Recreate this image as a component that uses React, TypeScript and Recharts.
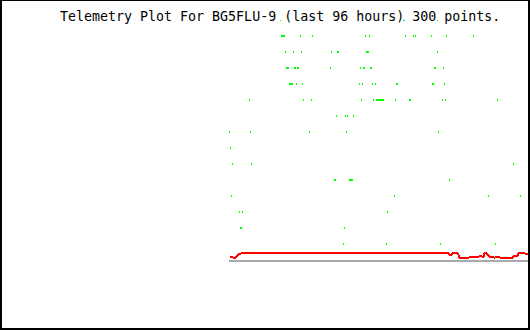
import { ComposedChart, Line, Scatter, XAxis, YAxis, ReferenceLine } from 'recharts'

const title = 'Telemetry Plot For BG5FLU-9 (last 96 hours) 300 points.'

// analog channel, one value per point (0..299)
const analog = [
  3, 3, 3, 3, 2, 2, 2, 4, 4, 6, 6, 6, 7, 7, 7, 7, 7, 7, 7, 7, 7, 7, 7, 7, 7, 7, 7, 7, 7, 7,
  7, 7, 7, 7, 7, 7, 7, 7, 7, 7, 7, 7, 7, 7, 7, 7, 7, 7, 7, 7, 7, 7, 7, 7, 7, 7, 7, 7, 7, 7,
  7, 7, 7, 7, 7, 7, 7, 7, 7, 7, 7, 7, 7, 7, 7, 7, 7, 7, 7, 7, 7, 7, 7, 7, 7, 7, 7, 7, 7, 7,
  7, 7, 7, 7, 7, 7, 7, 7, 7, 7, 7, 7, 7, 7, 7, 7, 7, 7, 7, 7, 7, 7, 7, 7, 7, 7, 7, 7, 7, 7,
  7, 7, 7, 7, 7, 7, 7, 7, 7, 7, 7, 7, 7, 7, 7, 7, 7, 7, 7, 7, 7, 7, 7, 7, 7, 7, 7, 7, 7, 7,
  7, 7, 7, 7, 7, 7, 7, 7, 7, 7, 7, 7, 7, 7, 7, 7, 7, 7, 7, 7, 7, 7, 7, 7, 7, 7, 7, 7, 7, 7,
  7, 7, 7, 7, 7, 7, 7, 7, 7, 7, 7, 7, 7, 7, 7, 7, 7, 7, 7, 7, 7, 7, 7, 7, 7, 7, 7, 7, 7, 7,
  7, 7, 7, 7, 7, 7, 7, 7, 7, 7, 5, 5, 5, 7, 7, 7, 7, 7, 7, 5, 2, 2, 2, 2, 2, 2, 2, 2, 2, 2,
  3, 3, 3, 3, 3, 3, 3, 3, 3, 3, 4, 4, 4, 3, 3, 7, 7, 7, 5, 5, 3, 3, 3, 3, 3, 2, 3, 3, 3, 3,
  3, 2, 2, 2, 2, 2, 2, 2, 2, 2, 2, 2, 2, 2, 4, 4, 4, 4, 4, 7, 7, 7, 7, 7, 7, 7, 6, 6, 6, 7,
]

// point indexes where each bit row is set (row 0 at top)
const bit0 = [51, 70, 174, 175, 208]
const bit1 = [52, 53, 54, 55, 71, 83, 136, 140, 176, 184, 186, 202, 217, 244]
const bit2 = [56, 64, 72, 102, 108, 109, 137, 138, 139, 208]
const bit3 = [57, 58, 59, 65, 66, 68, 69, 101, 131, 134, 135, 141, 142, 205, 206, 214]
const bit4 = [60, 61, 62, 63, 67, 73, 130, 133, 143, 146, 167, 168, 203, 204, 215]
const bit5 = [20, 74, 82, 132, 144, 147, 148, 149, 150, 151, 152, 153, 154, 166, 180, 181, 213, 216, 268]
const bit6 = [107, 116, 118, 124]
const bit7 = [0, 21, 80, 117, 209]
const bit8 = [1]
const bit9 = [3, 22, 284]
const bit10 = [105, 106, 120, 121, 122, 123, 220]
const bit11 = [2, 165, 259, 291]
const bit12 = [10, 13, 158]
const bit13 = [11, 12, 115]
const bit14 = [114, 157, 211, 266]

const bitRows = [bit0, bit1, bit2, bit3, bit4, bit5, bit6, bit7, bit8, bit9, bit10, bit11, bit12, bit13, bit14]

const lineData = analog.map((v, i) => ({ x: i, v }))
const bitData = bitRows.flatMap((row, k) => row.map((x) => ({ x, v: 240 - 16 * k })))

const BitDot = (props: any) => (
  <rect x={props.cx - 0.5} y={props.cy - 1} width={1} height={2} fill="#00ff00" shapeRendering="crispEdges" />
)

export default function App() {
  return (
    <div style={{ position: 'relative', width: 530, height: 330, background: '#fff' }}>
      <style>{'body{margin:0}'}</style>
      <ComposedChart
        width={530}
        height={330}
        data={lineData}
        margin={{ top: 20, right: 1, bottom: 70, left: 229 }}
      >
        <XAxis type="number" dataKey="x" domain={[-0.5, 299.5]} allowDataOverflow hide />
        <YAxis type="number" dataKey="v" domain={[0, 240]} allowDataOverflow hide />
        <ReferenceLine y={-1} stroke="#aaaaaa" strokeWidth={2} ifOverflow="visible" shapeRendering="crispEdges" />
        <Line
          type="linear"
          dataKey="v"
          stroke="#ff0000"
          strokeWidth={2}
          dot={false}
          activeDot={false}
          isAnimationActive={false}
          shapeRendering="crispEdges"
        />
        <Scatter data={bitData} dataKey="v" shape={BitDot} isAnimationActive={false} />
      </ComposedChart>
      <div
        style={{
          position: 'absolute',
          left: 60,
          top: 10,
          fontFamily: '"DejaVu Sans Mono", monospace',
          fontSize: 13.3,
          lineHeight: '13px',
          whiteSpace: 'pre',
          color: '#000',
        }}
      >
        {title}
      </div>
      <div
        style={{
          position: 'absolute',
          inset: 0,
          borderStyle: 'solid',
          borderColor: '#000',
          borderWidth: '1px 2px 2px 2px',
          pointerEvents: 'none',
        }}
      />
    </div>
  )
}
